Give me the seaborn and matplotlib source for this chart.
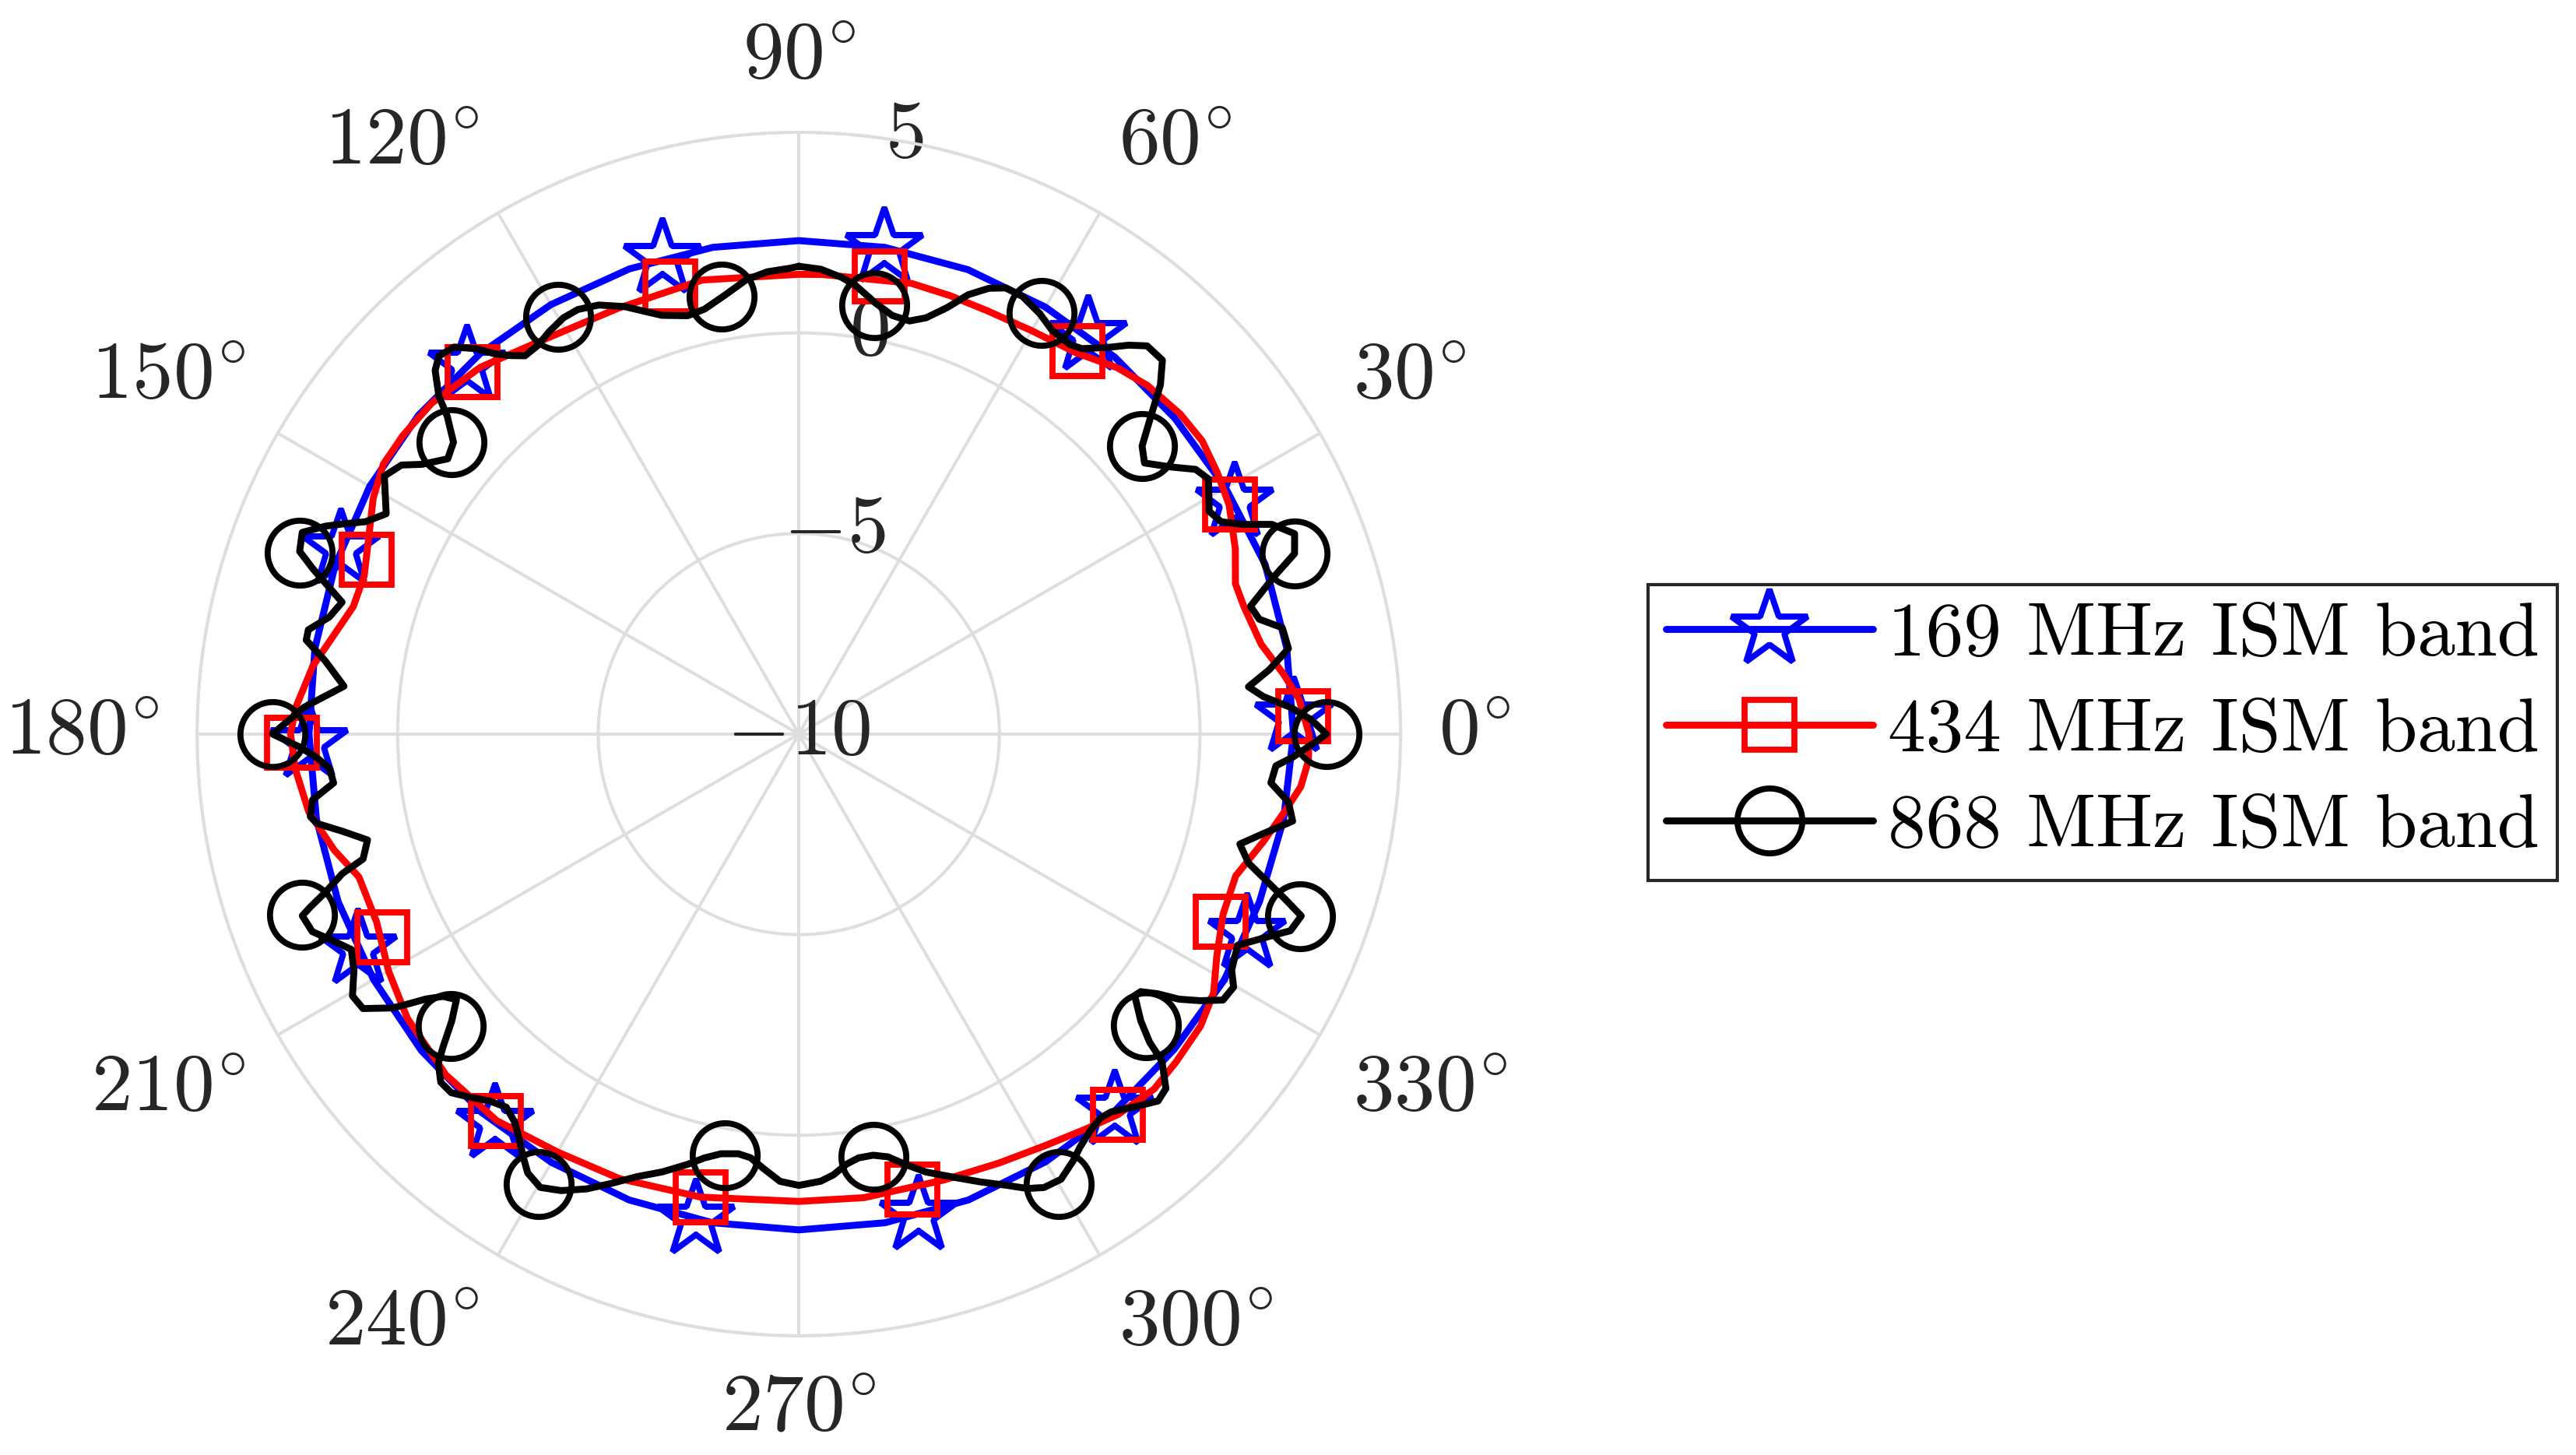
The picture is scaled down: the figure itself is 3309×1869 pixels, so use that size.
import numpy as np
import matplotlib
matplotlib.use("Agg")
import matplotlib.pyplot as plt
from matplotlib.lines import Line2D
import seaborn as sns

# Gain patterns (angle in degrees, gain in dB)
blue_deg = list(range(0, 360, 10))
blue_db = [2.33, 2.35, 2.37, 2.28, 2.24, 2.26, 2.29, 2.32, 2.32, 2.30, 2.32, 2.34,
           2.36, 2.37, 2.37, 2.35, 2.30, 2.25, 2.21, 2.21, 2.22, 2.24, 2.28, 2.31,
           2.33, 2.36, 2.37, 2.36, 2.37, 2.36, 2.31, 2.26, 2.22, 2.25, 2.22, 2.27]

red_deg = [0, 4, 7, 11, 16, 19, 23, 28, 32, 36, 40, 45, 49, 54, 60, 66, 71, 76, 87,
           90, 102, 113, 124, 131, 138, 143, 147, 151, 156, 160, 164, 168, 172, 177,
           180, 184, 189, 194, 198, 204, 210, 216, 224, 232, 240, 248, 258, 270, 278,
           288, 295, 301, 306, 310, 315, 319, 324, 328, 332, 337, 342, 347, 351, 354, 357]
red_db = [2.72, 2.50, 2.18, 1.74, 1.54, 1.51, 1.82, 2.15, 2.30, 2.43, 2.41, 2.29, 2.10,
          1.75, 1.61, 1.55, 1.56, 1.58, 1.47,
          1.46, 1.57, 1.53, 1.75, 2.11, 2.32, 2.36, 2.35, 2.13, 1.75, 1.53, 1.55, 1.85,
          2.23, 2.56,
          2.67, 2.58, 2.37, 1.94, 1.53, 1.52, 1.81, 2.06, 2.23, 2.23, 2.03, 1.95, 1.80,
          1.65, 1.67,
          1.69, 1.80, 1.96, 2.17, 2.38, 2.52, 2.46, 2.38, 2.19, 1.80, 1.49, 1.45, 1.89,
          2.27, 2.58, 2.72]

# marker positions shared by the 169 and 434 MHz curves
mark_deg = [2, 28, 54, 80, 106, 132, 158, 181, 206, 232, 258, 284, 310, 336]
blue_mark_db = [2.34, 2.30, 2.27, 2.32, 2.33, 2.37, 2.31, 2.21, 2.23, 2.31, 2.37, 2.37, 2.25, 2.24]
red_mark_db = [2.58, 2.17, 1.80, 1.58, 1.61, 2.15, 1.62, 2.63, 1.55, 2.25, 1.80, 1.70, 2.38, 1.50]

# 868 MHz trace, in drawing order (clockwise from 90 deg)
black_deg = [
    90, 87.3, 84.6, 82.7, 79.9, 77.4, 75.0, 73.0, 70.8, 68.9, 66.9, 65.1, 62.9, 60.2,
    57.9, 55.2, 53.7, 51.4, 49.7, 48.1, 45.8, 44.0, 42.3, 40.0, 38.1, 35.7, 33.7, 31.9,
    28.5, 26.7, 25.3, 23.9, 22.0, 20.0, 18.3, 15.8, 14.0, 12.4, 9.9, 7.8, 6.0, 4.6, 3.1,
    1.6, 0,
    359.0, 357.3, 356.2, 354.1, 352.1, 350.0, 347.9, 346.0, 344.0, 342.5, 341.3, 340.1,
    338.2, 337.2, 334.3, 331.4, 329.8, 327.9, 326.4, 325.1, 324.1, 323.0, 322.1, 320.0,
    318.7, 318.0, 316.0, 314.4, 312.2, 309.6, 308.2, 306.3, 304.2, 302.8, 300.5, 298.4,
    296.7, 294.7, 292.1, 289.5, 286.2, 283.9, 281.9, 280.0, 278.0, 276.3, 274.5, 272.8, 270,
    267.6, 265.3, 263.5, 261.8, 259.5, 257.4, 255.5, 252.7, 249.9, 247.4, 245.0, 242.5,
    240.3, 238.3, 236.8, 235.4, 233.8, 231.9, 229.9, 227.7, 225.9, 224.2, 222.4, 221.3,
    219.6, 217.8, 216.4, 215.4, 214.7, 214.0, 212.2, 210.4, 208.0, 205.7, 204.0, 202.1,
    200.1, 199.5, 198.5, 197.0, 196.0, 193.8, 192.0, 190.5, 189.6, 187.7, 186.0, 184.2,
    182.8, 181.5,
    180, 176.9, 174.0, 171.2, 169.2, 168.0, 166.0, 163.9, 162.3, 161.2, 159.9, 157.9,
    156.3, 155.3, 153.9, 151.9, 148.1, 145.9, 144.4, 141.9, 139.8, 137.9, 136.8, 135.0,
    133.6, 131.7, 129.9, 128.7, 127.3, 125.9, 123.8, 121.9, 119.5, 117.5, 115.0, 112.2,
    110.0, 108.1, 104.9, 102.5, 99.5, 96.6, 93.9, 91.2,
]
black_db = [
    1.66, 1.60, 1.43, 1.26, 0.91, 0.69, 0.66, 0.85, 1.26, 1.74, 2.08, 2.26, 2.25, 2.08,
    1.88, 1.83, 1.92, 2.33, 2.71, 3.00, 3.00, 2.53, 1.90, 1.17, 0.95, 1.41, 1.89, 2.03,
    1.64, 1.78, 2.23, 2.90, 3.33, 3.15, 2.47, 1.70, 1.83, 2.34, 2.39, 1.84, 1.27, 1.62, 2.28,
    2.78, 3.15,
    2.84, 2.32, 1.92, 1.83, 2.32, 2.50, 1.84, 1.33, 1.66, 2.25, 2.78, 3.32,
    3.20, 2.90, 2.14, 2.29, 2.54, 2.48, 2.01, 1.55, 1.04, 0.67, 0.61, 1.13,
    1.64, 2.18, 2.72, 2.80, 2.53, 2.22, 2.17, 2.27, 2.46, 2.64, 2.88, 2.85,
    2.68, 2.38, 2.05, 1.73, 1.37, 1.05, 0.77, 0.66, 0.67, 0.79, 1.02, 1.16, 1.25,
    1.16, 0.86, 0.63, 0.57, 0.64, 0.83, 1.08, 1.43, 1.75, 2.13, 2.51, 2.83,
    3.01, 2.86, 2.56, 2.27, 1.99, 1.82, 1.96, 2.23, 2.45, 2.45, 2.17, 1.80,
    1.23, 0.80, 1.02, 1.40, 1.80, 2.21, 2.84, 2.90, 2.56, 2.38, 2.69, 3.09,
    3.18, 2.92, 2.45, 1.90, 1.30, 1.07, 1.64, 2.22, 2.35, 2.23, 1.66, 1.73,
    2.03, 2.44,
    3.12, 2.35, 1.40, 1.95, 2.50, 2.50, 2.06, 1.85, 2.39, 2.80, 3.25, 3.36,
    2.89, 2.53, 2.03, 1.66, 2.17, 1.96, 1.55, 1.12, 1.27, 1.81, 2.31, 2.82,
    3.01, 2.92, 2.52, 2.15, 1.86, 1.64, 1.67, 1.80, 1.92, 1.93, 1.80, 1.51,
    1.21, 0.98, 0.79, 0.85, 1.10, 1.40, 1.55, 1.61,
]
black_mark_deg = list(range(0, 360, 20))
black_mark_db = [3.15, 3.15, 1.16, 2.12, 0.86, 1.07, 2.00, 1.31, 3.24,
                 3.12, 3.18, 1.33, 2.96, 0.67, 0.70, 2.95, 1.30, 3.30]

labels = ["169 MHz ISM band", "434 MHz ISM band", "868 MHz ISM band"]
theta_ticks = list(range(0, 360, 30))
r_ticks = [-10, -5, 0, 5]

sns.set_style("white")
plt.rcParams["mathtext.fontset"] = "cm"
plt.rcParams["font.family"] = ["cmr10", "DejaVu Sans"]

txt_color = "#262626"
grid_color = "#dedede"
lw = 3.2
mew = 2.8

fig = plt.figure(figsize=(16.545, 9.345), dpi=200)
ax = fig.add_axes([0.0765, 0.0819, 0.4672, 0.8272], projection="polar")


def closed(deg, db):
    th = np.unwrap(np.deg2rad(np.r_[deg, deg[0]]))
    return th, np.r_[db, db[0]]


series = [
    (blue_deg, blue_db, mark_deg, blue_mark_db, "blue", "*", 37),
    (red_deg, red_db, mark_deg, red_mark_db, "red", "s", 23),
    (black_deg, black_db, black_mark_deg, black_mark_db, "black", "o", 30),
]

handles = []
for deg, db, mdeg, mdb, col, mk, ms in series:
    th, r = closed(deg, db)
    sns.lineplot(x=th, y=r, ax=ax, sort=False, estimator=None, color=col,
                 linewidth=lw, legend=False)
    ax.plot(np.deg2rad(mdeg), mdb, ls="none", marker=mk, ms=ms, mfc="none",
            mec=col, mew=mew)
    handles.append(Line2D([], [], color=col, lw=lw, marker=mk, ms=ms,
                          mfc="none", mec=col, mew=mew))

ax.set_ylim(-10, 5)
ax.set_yticks(r_ticks)
ax.set_xticks(np.deg2rad(theta_ticks))
ax.set_xticklabels([])
ax.set_yticklabels([])
ax.set_xlabel("")
ax.set_ylabel("")
ax.grid(True, color=grid_color, lw=1.45)
ax.spines["polar"].set_color(grid_color)
ax.spines["polar"].set_linewidth(1.45)

# angle labels anchored just outside the outer ring
r_lab = 5.95
for d in theta_ticks:
    c, s = np.cos(np.deg2rad(d)), np.sin(np.deg2rad(d))
    ha = "center" if abs(c) < 0.1 else ("left" if c > 0 else "right")
    va = "center" if abs(s) < 0.1 else ("bottom" if s > 0 else "top")
    ax.text(np.deg2rad(d), r_lab, rf"${d}^{{\circ}}$", ha=ha, va=va,
            fontsize=38, color=txt_color, clip_on=False)

# radial labels along 80 degrees
for v in r_ticks:
    rr = v if v == -10 else v + 0.12
    ax.text(np.deg2rad(80), rr, rf"${v}$", ha="center", va="center",
            fontsize=38, color=txt_color, zorder=1.5)

leg = fig.legend(handles, labels, loc="upper left",
                 bbox_to_anchor=(2117 / 3309, 1 - 751 / 1869),
                 bbox_transform=fig.transFigure, borderaxespad=0,
                 borderpad=0.24, handlelength=2.73, handletextpad=0.2,
                 labelspacing=0.37, frameon=True, fancybox=False,
                 framealpha=1, edgecolor=txt_color,
                 prop={"family": "cmr10", "size": 35})
leg.get_frame().set_linewidth(1.5)
for t in leg.get_texts():
    t.set_color("black")

fig.savefig("out.png", dpi=200)
